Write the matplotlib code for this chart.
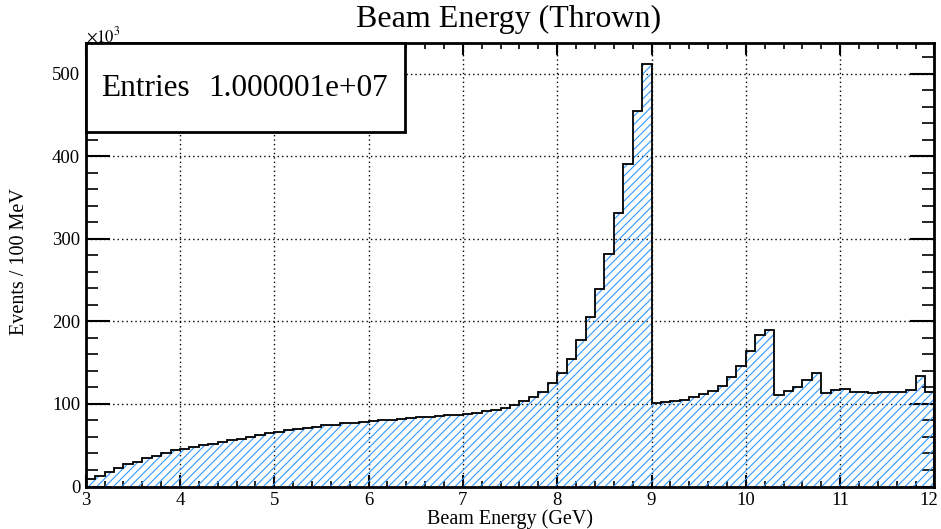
import numpy as np
import matplotlib
matplotlib.use("Agg")
import matplotlib.pyplot as plt
import matplotlib.transforms as mtransforms
from matplotlib.ticker import MultipleLocator
from matplotlib.patches import Rectangle

# binning of the histogram (GeV)
e_min = 3.0
e_max = 12.0

# events per 100 MeV bin, in units of 10^3
events_k = [
    9, 13, 18, 23, 27, 30, 34, 37, 41, 44,                          # 3.x
    46, 48, 50, 52, 54, 56, 58, 60, 62, 64.5,                       # 4.x
    66.5, 68, 69.5, 71, 72.5, 74, 75, 76.5, 77.5, 78.5,             # 5.x
    79.3, 80, 81, 82, 83, 83.8, 84.6, 85.3, 86, 86.8,               # 6.x
    88, 89, 91, 93, 95, 99, 103, 108, 115, 125,                     # 7.x
    137, 154, 177, 205, 239, 282, 331, 391, 455, 511,               # 8.x
    101, 102, 103.5, 105, 108, 111.5, 116, 122, 132, 146,           # 9.x
    164, 184, 190, 111, 115.5, 121, 128.5, 137, 113.5, 116.5,       # 10.x
    118, 114, 114, 113, 114, 114.2, 114.6, 116.3, 133.7, 114,       # 11.x
]
x_ticks = [3, 4, 5, 6, 7, 8, 9, 10, 11, 12]
y_ticks = [0, 100, 200, 300, 400, 500]
entries = "1.000001e+07"

plt.rcParams['font.family'] = ['Liberation Serif', 'DejaVu Serif']
plt.rcParams['mathtext.fontset'] = 'stix'
plt.rcParams['hatch.linewidth'] = 0.8

fig = plt.figure(figsize=(9.41, 5.29), dpi=100)
ax = fig.add_axes([0.0911, 0.0803, 0.9019, 0.8378])

edges = np.linspace(e_min, e_max, len(events_k) + 1)
vals = np.array(events_k)
blue = '#3399ff'

# hatched fill, then black outline on top
ax.stairs(vals, edges, baseline=0, fill=True, facecolor='none',
          edgecolor=blue, linewidth=0, hatch='////', zorder=2)
ax.stairs(vals, edges, baseline=0, fill=False, color='black',
          linewidth=1.3, zorder=3)

ax.set_xlim(e_min, e_max)
ax.set_ylim(0, 1.05 * vals.max())
ax.set_xticks(x_ticks)
ax.set_yticks(y_ticks)
ax.xaxis.set_minor_locator(MultipleLocator(0.2))
ax.yaxis.set_minor_locator(MultipleLocator(20))

ax.grid(True, which='major', color='black', linestyle=(0, (1, 2.2)),
        linewidth=1.0, zorder=1)
ax.set_axisbelow(True)

ax.tick_params(axis='both', which='both', direction='in', top=True,
               right=True, labelsize=13.5, colors='black')
ax.tick_params(axis='x', which='major', length=8.6, width=1.5, pad=4)
ax.tick_params(axis='x', which='minor', length=4.3, width=1.2)
ax.tick_params(axis='y', which='major', length=17, width=1.5, pad=4)
ax.tick_params(axis='y', which='minor', length=8.6, width=1.2)
for s in ax.spines.values():
    s.set_linewidth(2.0)
    s.set_zorder(5)

# last x label sits a little inside the figure edge
fig.canvas.draw()
last = ax.get_xticklabels()[-1]
last.set_transform(last.get_transform() +
                   mtransforms.ScaledTranslation(-6 / 100, 0, fig.dpi_scale_trans))

fig.text(510 / 941, 1 - 524 / 529, 'Beam Energy (GeV)', ha='center',
         va='baseline', fontsize=14.5)
fig.text(20 / 941, 1 - 262 / 529, 'Events / 100 MeV', ha='center',
         va='center', rotation=90, fontsize=14.5)
fig.text(509 / 941, 1 - 27.5 / 529, 'Beam Energy (Thrown)', ha='center',
         va='baseline', fontsize=23)
fig.text(0.091, 1 - 41.5 / 529, r'$\times10^{3}$', ha='left',
         va='baseline', fontsize=12)

# statistics box in the top-left corner
box = Rectangle((86 / 941, 1 - 131.5 / 529), (404.5 - 86) / 941,
                (131.5 - 43.3) / 529, transform=fig.transFigure,
                facecolor='white', edgecolor='black', linewidth=2.0,
                zorder=10)
fig.add_artist(box)
fig.text(101 / 941, 1 - 88 / 529, 'Entries', ha='left', va='center',
         fontsize=22.5, zorder=11)
fig.text(388 / 941, 1 - 88 / 529, entries, ha='right', va='center',
         fontsize=22.5, zorder=11)

fig.savefig('out.png', dpi=100)
